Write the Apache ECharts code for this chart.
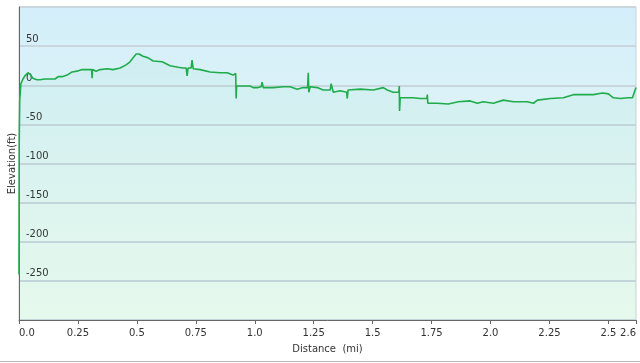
<!DOCTYPE html>
<html>
<head>
<meta charset="utf-8">
<script src="https://cdn.jsdelivr.net/npm/echarts@6/dist/echarts.min.js"></script>
<style>html,body{margin:0;padding:0;background:#fff;}#c{width:640px;height:363px;}</style>
</head>
<body>
<div id="c"></div>
<script>
var distances = [0, 0.001, 0.003, 0.008, 0.017, 0.025, 0.038, 0.047, 0.059, 0.076, 0.089, 0.110, 0.153, 0.166, 0.183, 0.204, 0.225, 0.246, 0.267, 0.289, 0.308, 0.310, 0.312, 0.327, 0.344, 0.374, 0.399, 0.429, 0.454, 0.471, 0.484, 0.497, 0.509, 0.526, 0.548, 0.569, 0.607, 0.641, 0.675, 0.696, 0.709, 0.713, 0.717, 0.730, 0.734, 0.739, 0.768, 0.811, 0.853, 0.883, 0.908, 0.919, 0.921, 0.923, 0.938, 0.980, 0.993, 1.010, 1.027, 1.031, 1.036, 1.057, 1.078, 1.121, 1.150, 1.180, 1.205, 1.224, 1.227, 1.229, 1.235, 1.265, 1.290, 1.320, 1.324, 1.333, 1.362, 1.390, 1.392, 1.396, 1.447, 1.503, 1.545, 1.562, 1.587, 1.611, 1.613, 1.614, 1.617, 1.672, 1.702, 1.730, 1.732, 1.734, 1.774, 1.821, 1.863, 1.914, 1.944, 1.969, 2.012, 2.054, 2.097, 2.156, 2.182, 2.199, 2.254, 2.309, 2.351, 2.394, 2.436, 2.475, 2.500, 2.521, 2.551, 2.581, 2.602, 2.610, 2.617];
var elevations = [-242, -70, -19, 2, 8, 12, 16, 14, 9, 7, 7, 8, 8, 11, 11, 13, 17, 18, 20, 20, 20, 9, 20, 18, 20, 21, 20, 22, 26, 30, 35, 40, 40, 37, 35, 31, 30, 25, 23, 22, 22, 12, 22, 22, 32, 21, 20, 17, 16, 16, 13, 15, -17, -1, -1, -1, -3, -3, -2, 4, -3, -3, -3, -2, -2, -5, -3, -3, 16, -9, -2, -3, -6, -6, 2, -9, -7, -9, -17, -6, -5, -6, -3, -6, -9, -9, -1, -33, -16, -16, -17, -17, -12, -23, -23, -24, -21, -20, -23, -21, -23, -19, -21, -21, -23, -19, -17, -16, -12, -12, -12, -10, -11, -16, -17, -16, -16, -15, -3];
var yTicks = [-250, -200, -150, -100, -50, 0, 50];
var xName = 'Distance  (mi)';
var yName = 'Elevation(ft)';

var pts = distances.map(function (d, i) { return [d, elevations[i]]; });
var font = 'DejaVu Sans';
var chart = echarts.init(document.getElementById('c'), null, {renderer: 'canvas'});
chart.setOption({
  animation: false,
  grid: {
    left: 19, right: 4, top: 7, bottom: 43,
    outerBoundsMode: 'none', containLabel: false,
    show: true, borderColor: '#d0d0d0', borderWidth: 1,
    backgroundColor: new echarts.graphic.LinearGradient(0, 0, 0, 1, [
      {offset: 0, color: '#d3eefa'},
      {offset: 1, color: '#effbf2'}
    ])
  },
  xAxis: {
    type: 'value', min: 0, max: 2.617, interval: 0.25,
    name: xName, nameLocation: 'middle', nameGap: 24, nameMoveOverlap: false,
    nameTextStyle: {fontFamily: font, fontSize: 10, color: '#333'},
    axisLine: {show: true, onZero: false, lineStyle: {color: '#666', width: 1}},
    axisTick: {show: true, length: 4, lineStyle: {color: '#666'}},
    splitLine: {show: false},
    axisLabel: {
      fontFamily: font, fontSize: 10, color: '#333', margin: 8,
      alignMinLabel: 'left', alignMaxLabel: 'right', showMaxLabel: true,
      formatter: function (v) {
        if (Math.abs(v - 2.617) < 1e-6) return '2.6';
        var r = Math.round(v * 100) / 100;
        return (Math.round(r * 100) % 50 === 0) ? r.toFixed(1) : r.toFixed(2);
      }
    }
  },
  yAxis: {
    type: 'value', min: -300, max: 100, interval: 50,
    name: yName, nameLocation: 'middle', nameGap: 2, nameRotate: 90, nameMoveOverlap: false,
    nameTextStyle: {fontFamily: font, fontSize: 10, color: '#333'},
    axisLine: {show: true, onZero: false, lineStyle: {color: '#666', width: 1}},
    axisTick: {show: false},
    splitLine: {show: true, lineStyle: {color: '#c9d6de', width: 2}},
    axisLabel: {
      inside: true, margin: 7, verticalAlign: 'bottom', padding: [0, 0, 2, 0],
      fontFamily: font, fontSize: 10, color: '#333',
      formatter: function (v) { return yTicks.indexOf(v) >= 0 ? String(v) : ''; }
    }
  },
  series: [{
    type: 'line', data: pts, showSymbol: false, smooth: false,
    lineStyle: {color: '#1fac4a', width: 1.6},
    areaStyle: {origin: 'start', color: 'rgba(40,200,120,0.06)'},
    z: 3
  }],
  graphic: [{
    type: 'line', shape: {x1: 0, y1: 361.5, x2: 640, y2: 361.5},
    style: {stroke: '#b8b8b8', lineWidth: 1}
  }]
});
</script>
</body>
</html>
